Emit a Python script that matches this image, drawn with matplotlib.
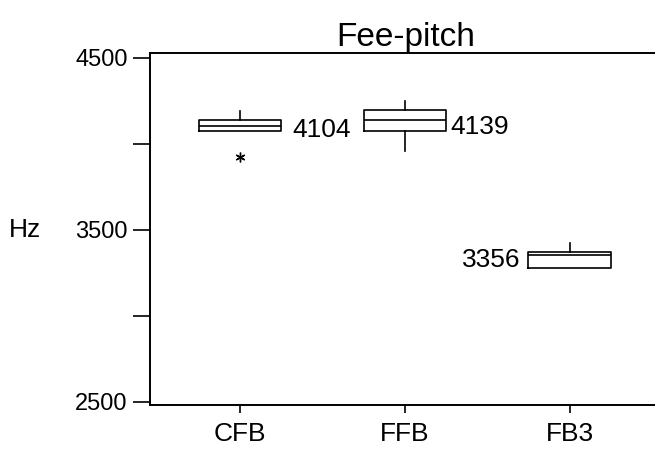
import matplotlib
matplotlib.use("Agg")
import matplotlib.pyplot as plt

plt.rcParams['font.family'] = ['Liberation Sans', 'DejaVu Sans']

# pitch summary per group (Hz)
groups = ["CFB", "FFB", "FB3"]
medians = [4104, 4139, 3356]
q1 = [4073, 4075, 3280]
q3 = [4137, 4195, 3368]
whisker_lo = [4073, 3955, 3280]
whisker_hi = [4190, 4250, 3422]
outliers = [[3921], [], []]

y_ticks = [2500, 3000, 3500, 4000, 4500]
y_tick_labels = ["2500", "", "3500", "", "4500"]

stats = []
for i, g in enumerate(groups):
    stats.append({
        "label": g,
        "med": medians[i],
        "q1": q1[i],
        "q3": q3[i],
        "whislo": whisker_lo[i],
        "whishi": whisker_hi[i],
        "fliers": outliers[i],
    })

fig = plt.figure(figsize=(6.55, 4.57), dpi=100)
ax = fig.add_axes([150 / 655, 1 - 405 / 457, 512 / 655, 352 / 457])

positions = [1, 2, 3]
line = dict(color="black", linewidth=1.2)
ax.bxp(stats, positions=positions, widths=0.5, showcaps=False,
       boxprops=line, whiskerprops=line, medianprops=line,
       flierprops=dict(marker=(6, 2, 0), markersize=7, markeredgecolor="black",
                       markeredgewidth=1.0, linestyle="none"))

# median labels, right of the box except the last one
offsets = [(8, -3), (3, -5), (-6, -4)]
aligns = ["left", "left", "right"]
for i, m in enumerate(medians):
    x = positions[i] + (0.25 if aligns[i] == "left" else -0.25)
    ax.annotate(str(m), (x, m), xytext=offsets[i], textcoords="offset points",
                ha=aligns[i], va="center", fontsize=19)

ax.set_xlim(0.455, 3.56)
ax.set_ylim(2482, 4527)
ax.set_yticks(y_ticks)
ax.set_yticklabels(y_tick_labels, fontsize=17)
ax.set_xticks(positions)
ax.set_xticklabels(groups, fontsize=19)
ax.tick_params(axis="y", direction="out", length=12, width=1.2, pad=4)
ax.tick_params(axis="x", direction="out", length=6, width=1.2, pad=6)

for s in ["left", "top", "bottom"]:
    ax.spines[s].set_linewidth(1.4)
ax.spines["right"].set_visible(False)

ax.set_ylabel("Hz", rotation=0, fontsize=19, va="center")
ax.yaxis.set_label_coords(-0.245, (3500 - 2482) / (4527 - 2482))
ax.set_title("Fee-pitch", fontsize=24, pad=3)

fig.savefig("out.png", dpi=100)
